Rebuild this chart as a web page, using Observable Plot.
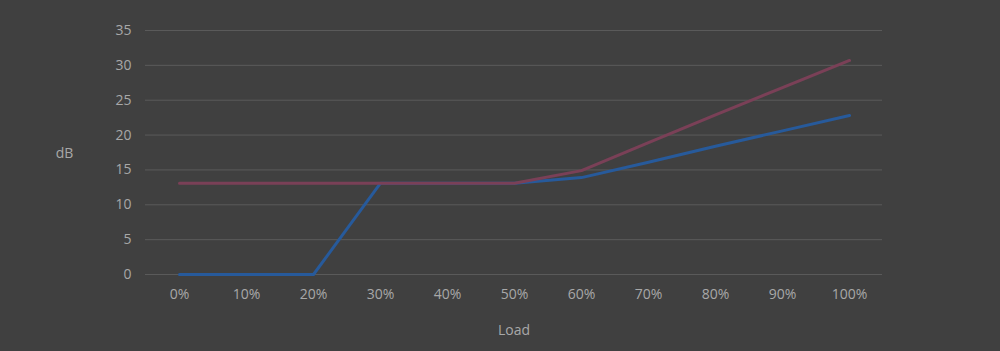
<!DOCTYPE html>
<html>
<head>
<meta charset="utf-8">
<script src="https://cdn.jsdelivr.net/npm/d3@7"></script>
<script src="https://cdn.jsdelivr.net/npm/@observablehq/plot@0.6"></script>
<style>
  html, body { margin: 0; padding: 0; background: #404040; }
  #chart svg { display: block; }
</style>
</head>
<body>
<div id="chart"></div>
<script>
const loads = ["0%", "10%", "20%", "30%", "40%", "50%", "60%", "70%", "80%", "90%", "100%"];
const seriesBlue = [0, 0, 0, 13.1, 13.1, 13.1, 13.9, 16.1, 18.4, 20.6, 22.8];
const seriesRed = [13.1, 13.1, 13.1, 13.1, 13.1, 13.1, 14.9, 18.9, 22.9, 26.8, 30.7];
const yTicks = [0, 5, 10, 15, 20, 25, 30, 35];

const blueData = loads.map((l, i) => ({load: l, v: seriesBlue[i]}));
const redData = loads.map((l, i) => ({load: l, v: seriesRed[i]}));

const chart = Plot.plot({
  width: 1000,
  height: 351,
  marginLeft: 145,
  marginRight: 118,
  marginTop: 30,
  marginBottom: 77,
  style: {background: "#404040", color: "#a8a8a8", fontFamily: "'Open Sans', sans-serif", fontSize: "14px"},
  x: {type: "point", domain: loads, padding: 0.5},
  y: {domain: [0, 35]},
  marks: [
    Plot.gridY(yTicks, {stroke: "#5a5a5a", strokeOpacity: 1, strokeWidth: 1}),
    Plot.axisY(yTicks, {tickSize: 0, tickPadding: 14, label: null, fill: "#a8a8a8", fontSize: 14}),
    Plot.axisX({tickSize: 0, tickPadding: 15, label: null, fill: "#a8a8a8", fontSize: 14}),
    Plot.line(blueData, {x: "load", y: "v", stroke: "#275a9b", strokeWidth: 3, strokeLinejoin: "round"}),
    Plot.line(redData, {x: "load", y: "v", stroke: "#7a4057", strokeWidth: 3, strokeLinejoin: "round"}),
    Plot.text(["dB"], {frameAnchor: "left", textAnchor: "middle", lineAnchor: "middle", dx: -81, dy: 1, fill: "#a8a8a8", fontSize: 14}),
    Plot.text(["Load"], {frameAnchor: "bottom", textAnchor: "middle", lineAnchor: "middle", dy: 56, fill: "#a8a8a8", fontSize: 14})
  ]
});
document.getElementById("chart").appendChild(chart);
</script>
</body>
</html>
